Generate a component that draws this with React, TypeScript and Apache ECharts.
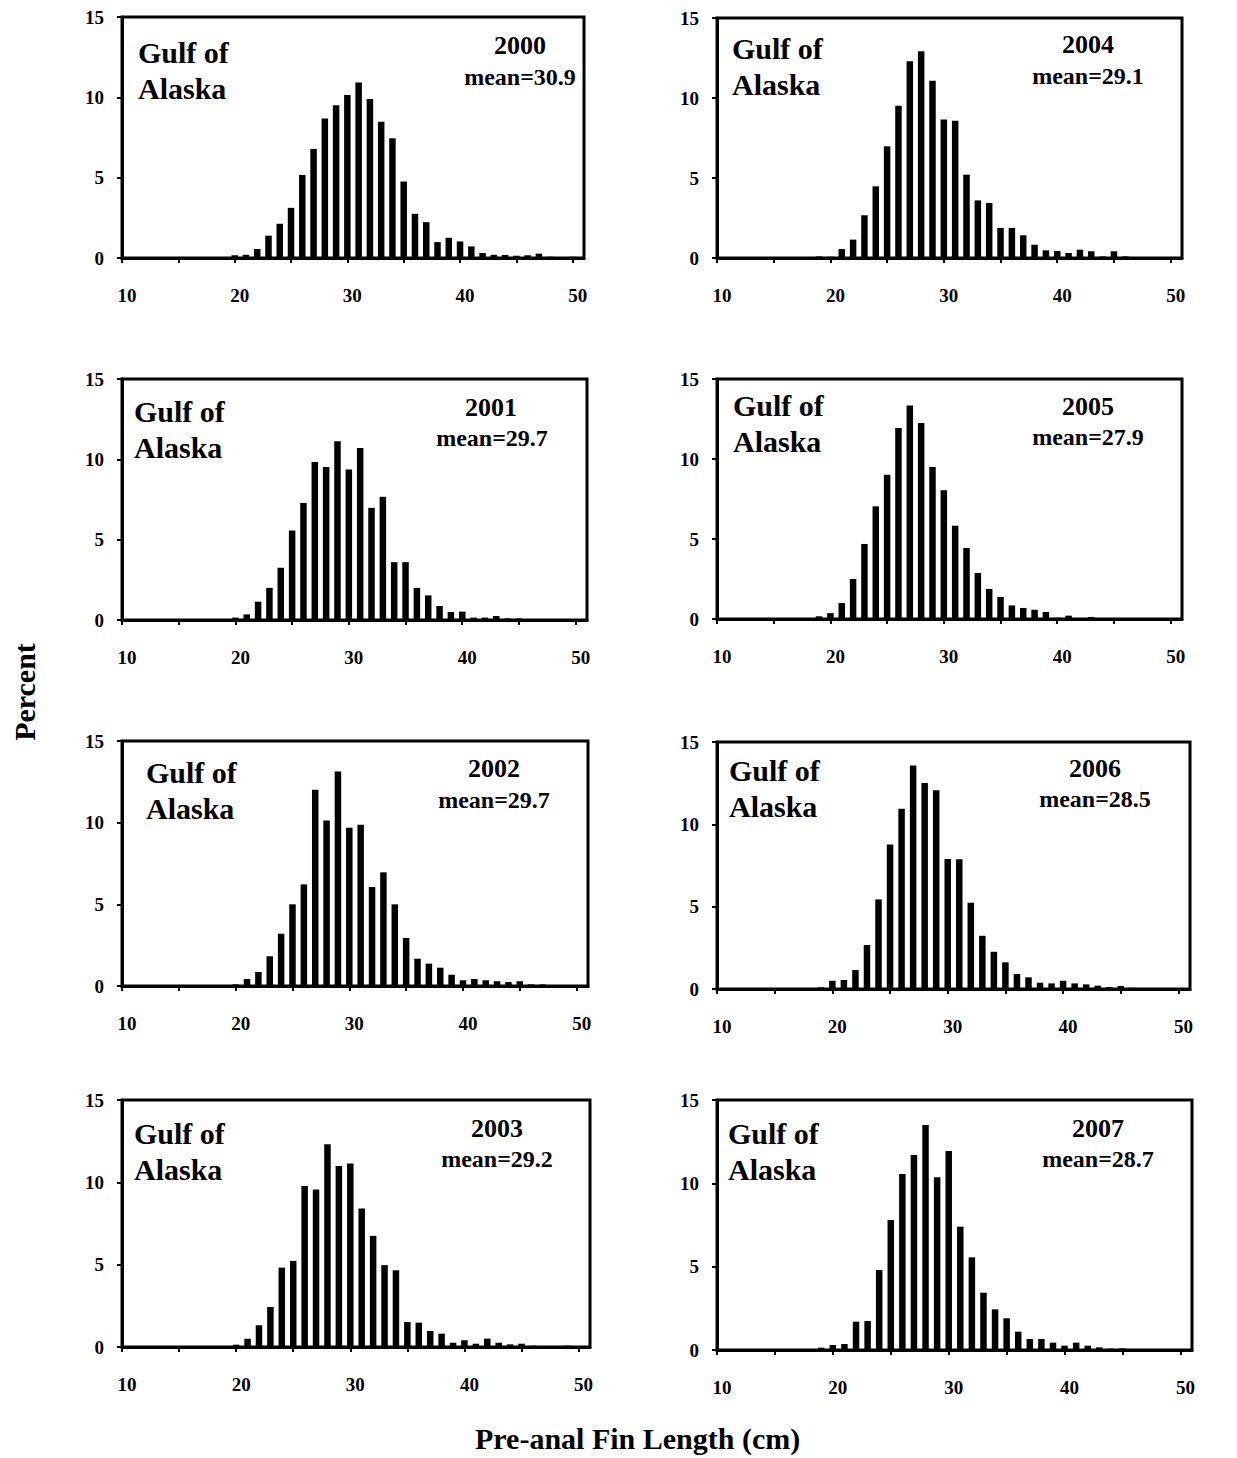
import React, { useEffect, useRef } from "react";
import * as echarts from "echarts";

const LENGTHS = [10, 11, 12, 13, 14, 15, 16, 17, 18, 19, 20, 21, 22, 23, 24, 25, 26, 27, 28, 29, 30, 31, 32, 33, 34, 35, 36, 37, 38, 39, 40, 41, 42, 43, 44, 45, 46, 47, 48, 49, 50];

const YEARS = ["2000", "2004", "2001", "2005", "2002", "2006", "2003", "2007"];
const MEANS = [30.9, 29.1, 29.7, 27.9, 29.7, 28.5, 29.2, 28.7];

const PCT_2000 = [0, 0, 0, 0, 0, 0, 0, 0, 0, 0, 0.17, 0.2, 0.56, 1.39, 2.13, 3.12, 5.17, 6.79, 8.69, 9.5, 10.14, 10.92, 9.89, 8.48, 7.45, 4.76, 2.75, 2.23, 0.99, 1.26, 1.03, 0.72, 0.31, 0.2, 0.19, 0.14, 0.17, 0.27, 0.08, 0.06, 0.08];
const PCT_2004 = [0, 0, 0, 0, 0, 0, 0, 0, 0, 0.1, 0.08, 0.56, 1.15, 2.67, 4.48, 6.98, 9.52, 12.29, 12.92, 11.08, 8.65, 8.58, 5.21, 3.6, 3.44, 1.88, 1.88, 1.42, 0.83, 0.48, 0.44, 0.31, 0.52, 0.42, 0.1, 0.42, 0.1, 0.04, 0.04, 0.04, 0.02];
const PCT_2001 = [0, 0, 0, 0, 0, 0, 0, 0, 0.04, 0.02, 0.15, 0.35, 1.14, 2.0, 3.25, 5.57, 7.29, 9.84, 9.53, 11.12, 9.36, 10.71, 6.98, 7.67, 3.6, 3.6, 2.0, 1.53, 0.87, 0.5, 0.52, 0.15, 0.15, 0.25, 0.1, 0.1, 0.06, 0.04, 0.04, 0.04, 0.04];
const PCT_2005 = [0, 0, 0, 0, 0, 0, 0, 0, 0, 0.17, 0.37, 1.0, 2.5, 4.69, 7.04, 9.02, 11.94, 13.35, 12.25, 9.5, 8.04, 5.83, 4.44, 2.88, 1.88, 1.38, 0.85, 0.69, 0.58, 0.44, 0.08, 0.21, 0.06, 0.13, 0.06, 0.04, 0.04, 0.04, 0.04, 0.04, 0.04];
const PCT_2002 = [0, 0, 0, 0, 0, 0, 0, 0, 0, 0, 0.1, 0.43, 0.86, 1.82, 3.2, 5.0, 6.22, 12.02, 10.14, 13.14, 9.69, 9.88, 6.06, 6.96, 5.0, 2.94, 1.67, 1.37, 1.12, 0.69, 0.35, 0.43, 0.35, 0.29, 0.24, 0.29, 0.1, 0.1, 0.04, 0.04, 0.04];
const PCT_2006 = [0, 0, 0, 0, 0, 0, 0, 0.04, 0.04, 0.1, 0.5, 0.55, 1.15, 2.67, 5.44, 8.77, 10.94, 13.58, 12.51, 12.07, 7.9, 7.88, 5.24, 3.23, 2.26, 1.62, 0.91, 0.71, 0.38, 0.34, 0.5, 0.34, 0.28, 0.2, 0.12, 0.18, 0.08, 0.04, 0.04, 0.04, 0.06];
const PCT_2003 = [0, 0, 0, 0, 0, 0, 0, 0, 0, 0.06, 0.14, 0.5, 1.32, 2.43, 4.82, 5.23, 9.77, 9.57, 12.32, 10.99, 11.15, 8.41, 6.75, 4.97, 4.66, 1.52, 1.48, 0.97, 0.81, 0.26, 0.41, 0.2, 0.51, 0.26, 0.16, 0.2, 0.08, 0.06, 0.06, 0.08, 0.04];
const PCT_2007 = [0, 0, 0, 0, 0, 0, 0, 0.04, 0.04, 0.14, 0.3, 0.36, 1.7, 1.74, 4.8, 7.8, 10.56, 11.7, 13.5, 10.36, 11.94, 7.4, 5.56, 3.44, 2.44, 1.9, 1.1, 0.66, 0.66, 0.44, 0.26, 0.44, 0.26, 0.16, 0.08, 0.1, 0.06, 0.04, 0.04, 0.04, 0.04];

const PANEL_VALUES = [PCT_2000, PCT_2004, PCT_2001, PCT_2005, PCT_2002, PCT_2006, PCT_2003, PCT_2007];

const X_TICKS = [10, 15, 20, 25, 30, 35, 40, 45, 50];
const X_TICK_LABELS = [10, 20, 30, 40, 50];
const X_MIN = 10;
const X_MAX = 51;
const Y_MIN = 0;
const Y_MAX = 15;
const Y_STEP = 5;

const REGION_LABEL = "Gulf of\nAlaska";
const Y_TITLE = "Percent";
const X_TITLE = "Pre-anal Fin Length (cm)";

// layout (page pixels)
const LAYOUT = [
  { grid: [122, 17, 462, 241], region: [138, 70], year: [520, 45.5], mean: [520, 77] },
  { grid: [717, 18, 465, 240], region: [732, 66], year: [1088, 44.5], mean: [1088, 76] },
  { grid: [122, 379, 465, 241], region: [134, 429.5], year: [491, 407], mean: [492, 438] },
  { grid: [717, 379, 465, 240], region: [733, 423], year: [1088, 406], mean: [1088, 437] },
  { grid: [122, 741, 466, 245], region: [146, 790.5], year: [494, 768], mean: [494, 799.5] },
  { grid: [717, 742, 473, 247], region: [729, 788.5], year: [1095, 768], mean: [1095, 799] },
  { grid: [122, 1100, 468, 247], region: [134, 1151.5], year: [497, 1128], mean: [497, 1158.5] },
  { grid: [717, 1100, 475, 250], region: [728, 1151.5], year: [1098, 1128], mean: [1098, 1159] },
];

const FONT = '"Liberation Serif", "Times New Roman", Times, serif';

export default function App() {
  const ref = useRef<HTMLDivElement>(null);

  useEffect(() => {
    if (!ref.current) return;
    const chart = echarts.init(ref.current, undefined, { renderer: "svg" });

    const grids: any[] = [];
    const xAxes: any[] = [];
    const yAxes: any[] = [];
    const series: any[] = [];
    const graphics: any[] = [];

    LAYOUT.forEach((p, i) => {
      const [left, top, width, height] = p.grid;
      grids.push({
        left,
        top,
        width,
        height,
        show: true,
        borderColor: "#000",
        borderWidth: 3,
        backgroundColor: "transparent",
        containLabel: false,
      });
      xAxes.push({
        type: "value",
        gridIndex: i,
        min: X_MIN,
        max: X_MAX,
        splitLine: { show: false },
        axisLine: { show: true, onZero: false, lineStyle: { color: "#000", width: 3 } },
        axisTick: {
          show: true,
          inside: false,
          length: 5,
          customValues: X_TICKS,
          lineStyle: { color: "#000", width: 2 },
        },
        axisLabel: {
          show: true,
          customValues: X_TICK_LABELS,
          margin: 28,
          color: "#000",
          fontFamily: FONT,
          fontWeight: "bold",
          fontSize: 19,
          padding: [0, 0, 0, 10],
        },
      });
      yAxes.push({
        type: "value",
        gridIndex: i,
        min: Y_MIN,
        max: Y_MAX,
        interval: Y_STEP,
        splitLine: { show: false },
        axisLine: { show: true, lineStyle: { color: "#000", width: 3 } },
        axisTick: { show: true, inside: false, length: 5, lineStyle: { color: "#000", width: 2 } },
        axisLabel: {
          margin: 18,
          color: "#000",
          fontFamily: FONT,
          fontWeight: "bold",
          fontSize: 19,
        },
      });
      series.push({
        type: "bar",
        name: YEARS[i],
        xAxisIndex: i,
        yAxisIndex: i,
        barWidth: 6.5,
        itemStyle: { color: "#000" },
        silent: true,
        data: LENGTHS.map((len, j) => [len, PANEL_VALUES[i][j]]),
      });

      graphics.push({
        type: "text",
        x: p.region[0],
        y: p.region[1],
        style: {
          text: REGION_LABEL,
          fontFamily: FONT,
          fontWeight: "bold",
          fontSize: 30,
          lineHeight: 36,
          fill: "#000",
          align: "left",
          verticalAlign: "middle",
        },
      });
      graphics.push({
        type: "text",
        x: p.year[0],
        y: p.year[1],
        style: {
          text: YEARS[i],
          fontFamily: FONT,
          fontWeight: "bold",
          fontSize: 26,
          fill: "#000",
          align: "center",
          verticalAlign: "middle",
        },
      });
      graphics.push({
        type: "text",
        x: p.mean[0],
        y: p.mean[1],
        style: {
          text: "mean=" + MEANS[i].toFixed(1),
          fontFamily: FONT,
          fontWeight: "bold",
          fontSize: 24,
          fill: "#000",
          align: "center",
          verticalAlign: "middle",
        },
      });
    });

    graphics.push({
      type: "text",
      x: 24,
      y: 692,
      rotation: Math.PI / 2,
      style: {
        text: Y_TITLE,
        fontFamily: FONT,
        fontWeight: "bold",
        fontSize: 30,
        fill: "#000",
        align: "center",
        verticalAlign: "middle",
      },
    });
    graphics.push({
      type: "text",
      x: 475,
      y: 1438,
      style: {
        text: X_TITLE,
        fontFamily: FONT,
        fontWeight: "bold",
        fontSize: 30,
        fill: "#000",
        align: "left",
        verticalAlign: "middle",
      },
    });

    chart.setOption({
      animation: false,
      backgroundColor: "#fff",
      grid: grids,
      xAxis: xAxes,
      yAxis: yAxes,
      series,
      graphic: graphics,
    });

    return () => {
      chart.dispose();
    };
  }, []);

  return (
    <div
      ref={ref}
      style={{ position: "absolute", left: 0, top: 0, width: 1237, height: 1458 }}
    />
  );
}
